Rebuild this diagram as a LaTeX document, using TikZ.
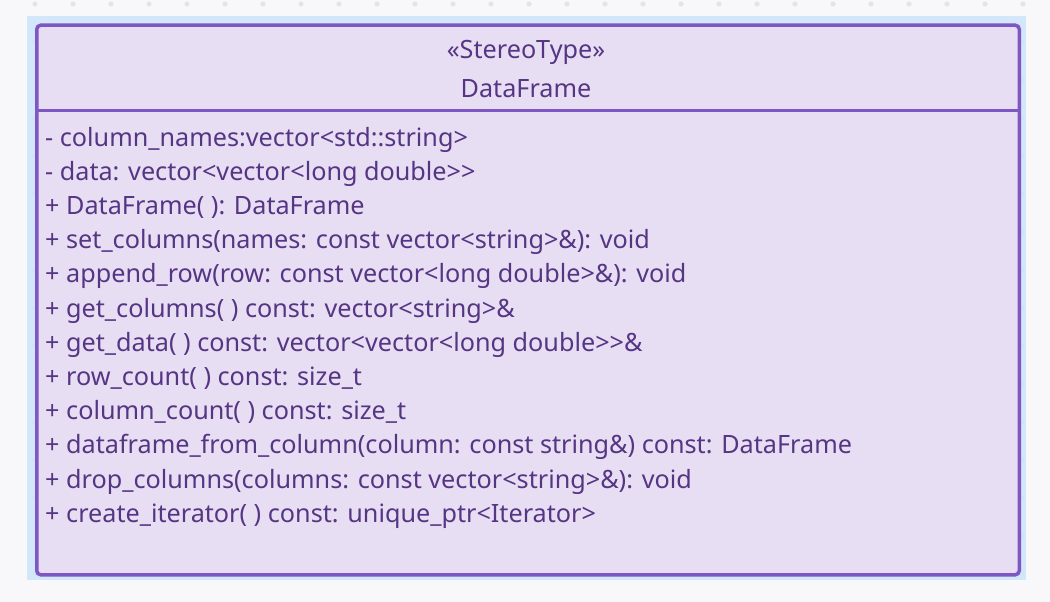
\documentclass[tikz,border=0pt]{standalone}
\usepackage{fontspec}
\setmainfont{Noto Sans}[Ligatures=TeXOff]
\definecolor{bgc}{HTML}{F8F8FA}
\definecolor{dotc}{HTML}{E4E4E8}
\definecolor{selc}{HTML}{CCE5F9}
\definecolor{boxfill}{HTML}{E8DEF3}
\definecolor{boxline}{HTML}{7E57C2}
\definecolor{txt}{HTML}{553584}
\begin{document}
\begin{tikzpicture}[x=1pt,y=-1pt,
  member/.style={anchor=base west,inner sep=0pt,text=txt,font=\fontsize{25.2}{30}\selectfont},
  head/.style={anchor=base,inner sep=0pt,text=txt,font=\fontsize{25.2}{30}\selectfont}]
\fill[bgc] (0,0) rectangle (1050,602);
\useasboundingbox (0,0) rectangle (1050,602);
\foreach \i in {0,...,27}{\foreach \j in {0,...,15}{
  \fill[dotc] ({35+38*\i},{4+38*\j}) circle (2.6);}}
\fill[selc,opacity=0.85] (27,16) rectangle (1025.5,580);
\node[draw=boxline,line width=3.5pt,fill=boxfill,rounded corners=4pt,minimum width=982.5pt,minimum height=549.5pt,inner sep=0pt,anchor=north west] (box) at (35,23.5) {};
\coordinate (sepL) at (35,110);
\coordinate (sepR) at (1017.5,110);
\draw[boxline,line width=3pt] (sepL) -- (sepR);
\node[head] (st) at (526,59) {«StereoType»};
\node[head] (nm) at (526,97) {DataFrame};
\node[member] (m1) at (45,146) {- column\_names:vector<std::string>};
\node[member] (m2) at (45,180.2) {- data: vector<vector<long double>>};
\node[member] (m3) at (45,214.4) {+ DataFrame( ): DataFrame};
\node[member] (m4) at (45,248.6) {+ set\_columns(names: const vector<string>\&): void};
\node[member] (m5) at (45,282.8) {+ append\_row(row: const vector<long double>\&): void};
\node[member] (m6) at (45,317) {+ get\_columns( ) const: vector<string>\&};
\node[member] (m7) at (45,351.2) {+ get\_data( ) const: vector<vector<long double>>\&};
\node[member] (m8) at (45,385.4) {+ row\_count( ) const: size\_t};
\node[member] (m9) at (45,419.6) {+ column\_count( ) const: size\_t};
\node[member] (m10) at (45,453.8) {+ dataframe\_from\_column(column: const string\&) const: DataFrame};
\node[member] (m11) at (45,488) {+ drop\_columns(columns: const vector<string>\&): void};
\node[member] (m12) at (45,522.2) {+ create\_iterator( ) const: unique\_ptr<Iterator>};
\end{tikzpicture}
\end{document}
